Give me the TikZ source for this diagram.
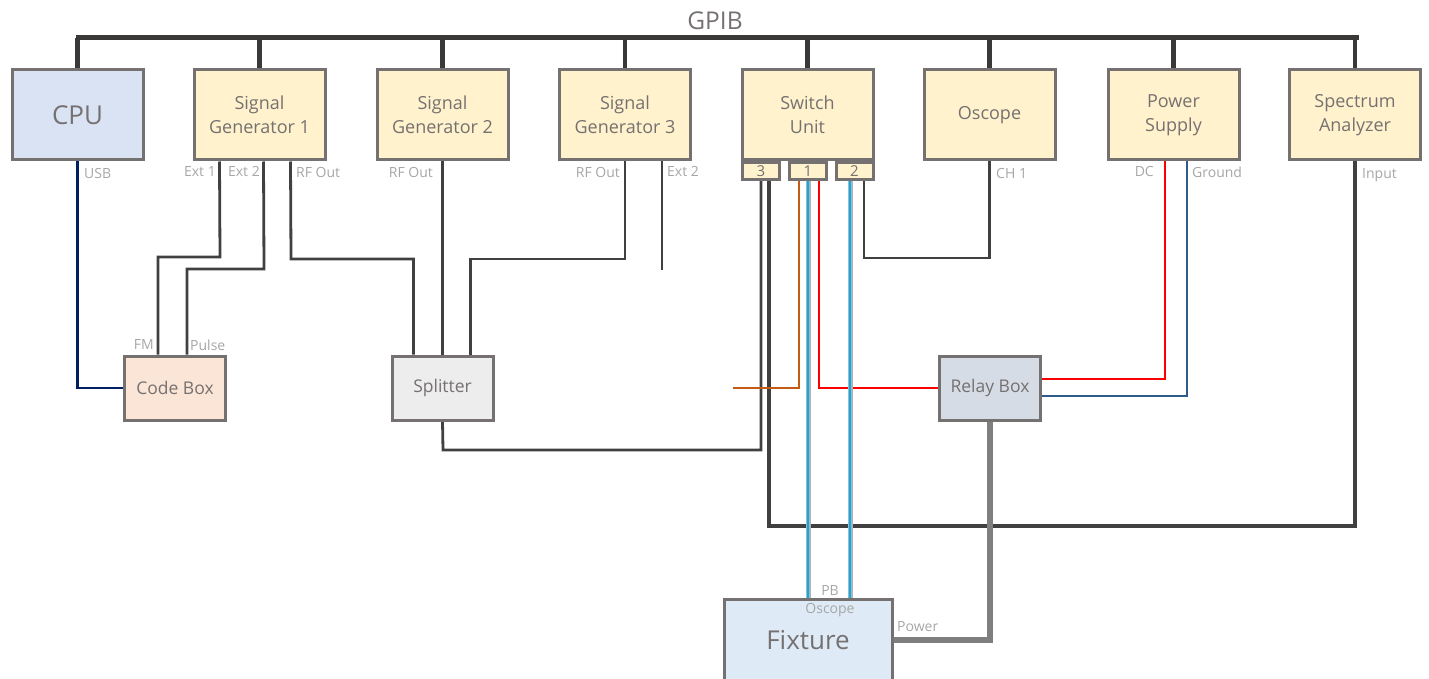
\documentclass[tikz,border=0pt]{standalone}
\usepackage{fontspec}
\setmainfont{Open Sans}
\usetikzlibrary{calc}
\pgfdeclarelayer{background}
\pgfsetlayers{background,main}
\definecolor{boxline}{HTML}{767171}
\definecolor{boxtext}{HTML}{767171}
\definecolor{portc}{HTML}{A6A6A6}
\definecolor{ylw}{HTML}{FFF2CC}
\definecolor{cpuc}{HTML}{DAE3F3}
\definecolor{codec}{HTML}{FBE5D6}
\definecolor{splc}{HTML}{EDEDED}
\definecolor{relc}{HTML}{D6DCE5}
\definecolor{fixc}{HTML}{DEEBF7}
\definecolor{busc}{HTML}{3B3838}
\definecolor{wirec}{HTML}{404040}
\definecolor{usbc}{HTML}{002060}
\definecolor{orangec}{HTML}{C55A11}
\definecolor{cyanc}{HTML}{00B0F0}
\definecolor{gndc}{HTML}{2E5C8A}
\definecolor{pwrc}{HTML}{7F7F7F}
\tikzset{
  unit/.style={draw=boxline, line width=3pt, fill=ylw, minimum width=131pt, minimum height=90pt,
    inner sep=0pt, align=center, text=boxtext, font=\fontsize{18}{24}\selectfont},
  smallbox/.style={draw=boxline, line width=3pt, minimum width=101pt, minimum height=64pt,
    inner sep=0pt, text=boxtext, font=\fontsize{17.5}{21}\selectfont},
  portbox/.style={draw=boxline, line width=3pt, fill=ylw, minimum width=37pt, minimum height=17pt,
    inner sep=0pt, text=boxtext, font=\fontsize{15}{16}\selectfont},
  plabel/.style={inner sep=0pt, text=portc, font=\fontsize{14}{15}\selectfont},
  bus/.style={draw=busc, line width=5pt},
  drop/.style={draw=busc, line width=4.5pt},
  wire/.style={draw=wirec, line width=2.8pt},
  thickwire/.style={draw=wirec, line width=4.2pt},
}
\begin{document}
\begin{tikzpicture}[x=1pt, y=-1pt]
\useasboundingbox (0,0) rectangle (1429,679);
% units
\node[unit, fill=cpuc, font=\fontsize{26}{30}\selectfont] (cpu) at (77.5,115) {CPU};
\node[unit] (sg1) at (259.5,115) {Signal\\Generator 1};
\node[unit] (sg2) at (442.5,115) {Signal\\Generator 2};
\node[unit] (sg3) at (625,115) {Signal\\Generator 3};
\node[unit] (sw) at (807.5,114.5) {Switch\\Unit};
\node[unit] (osc) at (989.5,115) {Oscope};
\node[unit] (ps) at (1173.5,115) {Power\\Supply};
\node[unit] (sa) at (1355,115) {Spectrum\\Analyzer};
\node[portbox] (p3) at (761,171) {3};
\node[portbox] (p1) at (808,171) {1};
\node[portbox] (p2) at (854.5,171) {2};
\node[smallbox, fill=codec] (code) at (175,388) {Code Box};
\node[smallbox, fill=splc] (spl) at (442.5,388) {Splitter};
\node[smallbox, fill=relc] (relay) at (990,388) {Relay Box};
\node[draw=boxline, line width=3pt, fill=fixc, minimum width=168pt, minimum height=96pt, inner sep=0pt] (fix) at (808.5,647) {};
\node[text=boxtext, font=\fontsize{26}{30}\selectfont, inner sep=0pt] (fixt) at (808,640) {Fixture};
% GPIB
\node[text=boxtext, font=\fontsize{24.5}{28}\selectfont, inner sep=0pt] (gpib) at (715,21) {GPIB};
\coordinate (busl) at (78,38);
\coordinate (busr) at (1356,38);
\begin{pgfonlayer}{background}
\draw[bus, line cap=rect] (busl) -- (busr);
\foreach \n in {cpu,sg1,sg2,sg3,sw,osc,ps,sa}{
  \draw[drop] (\n.north |- busl) -- (\n.north);
}
% USB
\draw[usbc, line width=2.8pt] (cpu.south) |- (code.west);
% SG1 ext lines
\draw[wire] ($(sg1.south)+(-40,0)$) -- (220,257) -| ($(code.north west)+(35,0)$);
\draw[wire] ($(sg1.south)+(4,0)$) -- (264,269) -| ($(code.north west)+(64,0)$);
\draw[wire] ($(sg1.south)+(31,0)$) -- (291,259) -| ($(spl.north west)+(23,0)$);
\draw[wire] (sg2.south) -- (spl.north);
\draw[wire] (sg3.south) -- (625,259) -| ($(spl.north west)+(80,0)$);
\coordinate (sg3end) at (662,270);
\draw[wire] (sg3.south -| sg3end) -- (sg3end);
% splitter to port 3
\draw[wire] (spl.south) -- (443,450) -| (p3.south);
% port 3 thick to spectrum analyzer
\draw[thickwire] ($(p3.south)+(8,0)$) -- (769,526) -| (sa.south);
% port 1
\coordinate (orend) at (733,388);
\draw[orangec, line width=2.8pt] ($(p1.south)+(-9,0)$) |- (orend);
\draw[red, line width=2.8pt] ($(p1.south)+(11,0)$) |- (relay.west);
\draw[pwrc!60, line width=5pt] (p1.south) -- (p1.south |- fix.north);
\draw[cyanc, line width=2.2pt] (p1.south) -- (p1.south |- fix.north);
\coordinate (p2b) at (850,181);
\draw[pwrc!60, line width=5pt] (p2b) -- (p2b |- fix.north);
\draw[cyanc, line width=2.2pt] (p2b) -- (p2b |- fix.north);
% port 2 to oscope
\draw[wire] (864,181) -- (864,258) -| (osc.south);
% power supply
\draw[red, line width=2.8pt] (1165,161) |- ($(relay.east)+(0,-9)$);
\draw[gndc, line width=2.2pt] (1187,161) |- ($(relay.east)+(0,8)$);
% relay to fixture
\draw[pwrc, line width=5.5pt] (relay.south) |- (fix.east |- 0,640);
\end{pgfonlayer}
% port labels
\node[plabel, anchor=west] (lusb) at (84,173) {USB};
\node[plabel, anchor=east] (le1) at (216,172) {Ext 1};
\node[plabel, anchor=east] (le2) at (260,172) {Ext 2};
\node[plabel, anchor=west] (lrf1) at (296,172) {RF Out};
\node[plabel, anchor=east] (lrf2) at (433,172) {RF Out};
\node[plabel, anchor=east] (lrf3) at (620,172) {RF Out};
\node[plabel, anchor=west] (le3) at (667,172) {Ext 2};
\node[plabel, anchor=west] (lch) at (996,174) {CH 1};
\node[plabel, anchor=east] (ldc) at (1154,172) {DC};
\node[plabel, anchor=west] (lgnd) at (1192,172) {Ground};
\node[plabel, anchor=west] (linp) at (1362,175) {Input};
\node[plabel, anchor=east] (lfm) at (154,345) {FM};
\node[plabel, anchor=west] (lpul) at (190,345) {Pulse};
\node[plabel] (lpb) at (830,590) {PB};
\node[plabel] (losc) at (830,610) {Oscope};
\node[plabel, anchor=west] (lpow) at (897,627) {Power};
\end{tikzpicture}
\end{document}
